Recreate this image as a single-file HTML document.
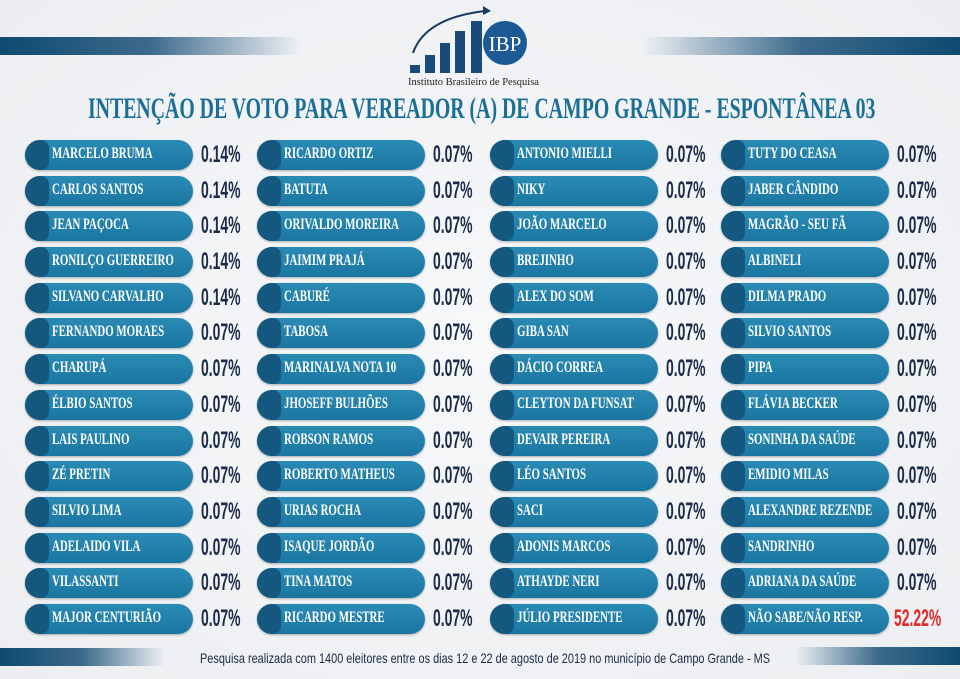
<!DOCTYPE html>
<html><head><meta charset="utf-8"><style>
body{margin:0;width:960px;height:679px;overflow:hidden;background:radial-gradient(ellipse at center,#f7f8fa 0%,#eceef1 100%);font-family:"Liberation Sans",sans-serif;position:relative}
.bar{position:absolute;height:18px}
.p{position:absolute;width:168px;height:30px;border-radius:15px;background:linear-gradient(#2a8bb5,#1a76a0);box-shadow:0 1px 2px rgba(0,0,0,.3)}
.p:before{content:"";position:absolute;left:0;top:0;width:24px;height:30px;border-radius:15px 8px 8px 15px;background:#15587f}
.p span{position:absolute;left:27px;top:5px;white-space:nowrap;color:#fff;font-weight:bold;font-size:16px;font-family:"Liberation Serif",serif;transform:scaleX(.68);transform-origin:left center}
.v{position:absolute;color:#1b2b48;font-weight:bold;font-size:24px;transform:scaleX(.58);transform-origin:left center;white-space:nowrap}
</style></head><body>
<div class="bar" style="left:0;top:37px;width:300px;background:linear-gradient(90deg,#0d4a70,#3d6a8c 50%,rgba(200,210,220,0))"></div>
<div class="bar" style="left:642px;top:37px;width:318px;background:linear-gradient(90deg,rgba(200,210,220,0),#3d6a8c 50%,#0d4a70)"></div>
<div class="bar" style="left:0;top:648px;width:165px;background:linear-gradient(90deg,#0d4a70,#3d6a8c 50%,rgba(200,210,220,0))"></div>
<div class="bar" style="left:795px;top:647px;width:165px;background:linear-gradient(90deg,rgba(200,210,220,0),#3d6a8c 50%,#0d4a70)"></div>
<svg style="position:absolute;left:405px;top:3px" width="150" height="86">
<path d="M8 50 Q20 15 80 8" stroke="#1a3a60" stroke-width="2" fill="none"/><path d="M78 3 L86 8 L78 12Z" fill="#1a3a60"/>
<rect x="5" y="62" width="10" height="8" fill="#1a4a7a"/><rect x="20" y="52" width="10" height="18" fill="#1a4a7a"/><rect x="35" y="40" width="10" height="30" fill="#1a4a7a"/><rect x="50" y="28" width="10" height="42" fill="#1a4a7a"/><rect x="66" y="18" width="11" height="52" fill="#1a4a7a"/>
<circle cx="100" cy="40" r="22" fill="#1c5a95"/><text x="100" y="48" text-anchor="middle" fill="#fff" font-family="Liberation Serif" font-size="21">IBP</text>
<text x="3" y="82" fill="#222" font-family="Liberation Serif" font-size="10.5">Instituto Brasileiro de Pesquisa</text></svg>
<div style="position:absolute;left:88px;top:92px;white-space:nowrap;color:#1b6f96;font-weight:bold;font-size:30px;font-family:'Liberation Serif',serif;transform:scaleX(.66);transform-origin:left top;width:1200px">INTENÇÃO DE VOTO PARA VEREADOR (A) DE CAMPO GRANDE - ESPONTÂNEA 03</div>

<div class="p" style="left:25px;top:140px"><span>MARCELO BRUMA</span></div><div class="v" style="left:201px;top:141px">0.14%</div>
<div class="p" style="left:25px;top:176px"><span>CARLOS SANTOS</span></div><div class="v" style="left:201px;top:177px">0.14%</div>
<div class="p" style="left:25px;top:211px"><span>JEAN PAÇOCA</span></div><div class="v" style="left:201px;top:212px">0.14%</div>
<div class="p" style="left:25px;top:247px"><span>RONILÇO GUERREIRO</span></div><div class="v" style="left:201px;top:248px">0.14%</div>
<div class="p" style="left:25px;top:283px"><span>SILVANO CARVALHO</span></div><div class="v" style="left:201px;top:284px">0.14%</div>
<div class="p" style="left:25px;top:318px"><span>FERNANDO MORAES</span></div><div class="v" style="left:201px;top:319px">0.07%</div>
<div class="p" style="left:25px;top:354px"><span>CHARUPÁ</span></div><div class="v" style="left:201px;top:355px">0.07%</div>
<div class="p" style="left:25px;top:390px"><span>ÉLBIO SANTOS</span></div><div class="v" style="left:201px;top:391px">0.07%</div>
<div class="p" style="left:25px;top:426px"><span>LAIS PAULINO</span></div><div class="v" style="left:201px;top:427px">0.07%</div>
<div class="p" style="left:25px;top:461px"><span>ZÉ PRETIN</span></div><div class="v" style="left:201px;top:462px">0.07%</div>
<div class="p" style="left:25px;top:497px"><span>SILVIO LIMA</span></div><div class="v" style="left:201px;top:498px">0.07%</div>
<div class="p" style="left:25px;top:533px"><span>ADELAIDO VILA</span></div><div class="v" style="left:201px;top:534px">0.07%</div>
<div class="p" style="left:25px;top:568px"><span>VILASSANTI</span></div><div class="v" style="left:201px;top:569px">0.07%</div>
<div class="p" style="left:25px;top:604px"><span>MAJOR CENTURIÃO</span></div><div class="v" style="left:201px;top:605px">0.07%</div>

<div class="p" style="left:257px;top:140px"><span>RICARDO ORTIZ</span></div><div class="v" style="left:433px;top:141px">0.07%</div>
<div class="p" style="left:257px;top:176px"><span>BATUTA</span></div><div class="v" style="left:433px;top:177px">0.07%</div>
<div class="p" style="left:257px;top:211px"><span>ORIVALDO MOREIRA</span></div><div class="v" style="left:433px;top:212px">0.07%</div>
<div class="p" style="left:257px;top:247px"><span>JAIMIM PRAJÁ</span></div><div class="v" style="left:433px;top:248px">0.07%</div>
<div class="p" style="left:257px;top:283px"><span>CABURÉ</span></div><div class="v" style="left:433px;top:284px">0.07%</div>
<div class="p" style="left:257px;top:318px"><span>TABOSA</span></div><div class="v" style="left:433px;top:319px">0.07%</div>
<div class="p" style="left:257px;top:354px"><span>MARINALVA NOTA 10</span></div><div class="v" style="left:433px;top:355px">0.07%</div>
<div class="p" style="left:257px;top:390px"><span>JHOSEFF BULHÕES</span></div><div class="v" style="left:433px;top:391px">0.07%</div>
<div class="p" style="left:257px;top:426px"><span>ROBSON RAMOS</span></div><div class="v" style="left:433px;top:427px">0.07%</div>
<div class="p" style="left:257px;top:461px"><span>ROBERTO MATHEUS</span></div><div class="v" style="left:433px;top:462px">0.07%</div>
<div class="p" style="left:257px;top:497px"><span>URIAS ROCHA</span></div><div class="v" style="left:433px;top:498px">0.07%</div>
<div class="p" style="left:257px;top:533px"><span>ISAQUE JORDÃO</span></div><div class="v" style="left:433px;top:534px">0.07%</div>
<div class="p" style="left:257px;top:568px"><span>TINA MATOS</span></div><div class="v" style="left:433px;top:569px">0.07%</div>
<div class="p" style="left:257px;top:604px"><span>RICARDO MESTRE</span></div><div class="v" style="left:433px;top:605px">0.07%</div>

<div class="p" style="left:490px;top:140px"><span>ANTONIO MIELLI</span></div><div class="v" style="left:666px;top:141px">0.07%</div>
<div class="p" style="left:490px;top:176px"><span>NIKY</span></div><div class="v" style="left:666px;top:177px">0.07%</div>
<div class="p" style="left:490px;top:211px"><span>JOÃO MARCELO</span></div><div class="v" style="left:666px;top:212px">0.07%</div>
<div class="p" style="left:490px;top:247px"><span>BREJINHO</span></div><div class="v" style="left:666px;top:248px">0.07%</div>
<div class="p" style="left:490px;top:283px"><span>ALEX DO SOM</span></div><div class="v" style="left:666px;top:284px">0.07%</div>
<div class="p" style="left:490px;top:318px"><span>GIBA SAN</span></div><div class="v" style="left:666px;top:319px">0.07%</div>
<div class="p" style="left:490px;top:354px"><span>DÁCIO CORREA</span></div><div class="v" style="left:666px;top:355px">0.07%</div>
<div class="p" style="left:490px;top:390px"><span>CLEYTON DA FUNSAT</span></div><div class="v" style="left:666px;top:391px">0.07%</div>
<div class="p" style="left:490px;top:426px"><span>DEVAIR PEREIRA</span></div><div class="v" style="left:666px;top:427px">0.07%</div>
<div class="p" style="left:490px;top:461px"><span>LÉO SANTOS</span></div><div class="v" style="left:666px;top:462px">0.07%</div>
<div class="p" style="left:490px;top:497px"><span>SACI</span></div><div class="v" style="left:666px;top:498px">0.07%</div>
<div class="p" style="left:490px;top:533px"><span>ADONIS MARCOS</span></div><div class="v" style="left:666px;top:534px">0.07%</div>
<div class="p" style="left:490px;top:568px"><span>ATHAYDE NERI</span></div><div class="v" style="left:666px;top:569px">0.07%</div>
<div class="p" style="left:490px;top:604px"><span>JÚLIO PRESIDENTE</span></div><div class="v" style="left:666px;top:605px">0.07%</div>

<div class="p" style="left:721px;top:140px"><span>TUTY DO CEASA</span></div><div class="v" style="left:897px;top:141px">0.07%</div>
<div class="p" style="left:721px;top:176px"><span>JABER CÂNDIDO</span></div><div class="v" style="left:897px;top:177px">0.07%</div>
<div class="p" style="left:721px;top:211px"><span>MAGRÃO - SEU FÃ</span></div><div class="v" style="left:897px;top:212px">0.07%</div>
<div class="p" style="left:721px;top:247px"><span>ALBINELI</span></div><div class="v" style="left:897px;top:248px">0.07%</div>
<div class="p" style="left:721px;top:283px"><span>DILMA PRADO</span></div><div class="v" style="left:897px;top:284px">0.07%</div>
<div class="p" style="left:721px;top:318px"><span>SILVIO SANTOS</span></div><div class="v" style="left:897px;top:319px">0.07%</div>
<div class="p" style="left:721px;top:354px"><span>PIPA</span></div><div class="v" style="left:897px;top:355px">0.07%</div>
<div class="p" style="left:721px;top:390px"><span>FLÁVIA BECKER</span></div><div class="v" style="left:897px;top:391px">0.07%</div>
<div class="p" style="left:721px;top:426px"><span>SONINHA DA SAÚDE</span></div><div class="v" style="left:897px;top:427px">0.07%</div>
<div class="p" style="left:721px;top:461px"><span>EMIDIO MILAS</span></div><div class="v" style="left:897px;top:462px">0.07%</div>
<div class="p" style="left:721px;top:497px"><span>ALEXANDRE REZENDE</span></div><div class="v" style="left:897px;top:498px">0.07%</div>
<div class="p" style="left:721px;top:533px"><span>SANDRINHO</span></div><div class="v" style="left:897px;top:534px">0.07%</div>
<div class="p" style="left:721px;top:568px"><span>ADRIANA DA SAÚDE</span></div><div class="v" style="left:897px;top:569px">0.07%</div>
<div class="p" style="left:721px;top:604px"><span>NÃO SABE/NÃO RESP.</span></div><div class="v" style="left:894px;top:605px;color:#e02b2b">52.22%</div>

<div style="position:absolute;left:200px;top:650px;white-space:nowrap;color:#1b2b48;font-size:14px;transform:scaleX(.78);transform-origin:left top">Pesquisa realizada com 1400 eleitores entre os dias 12 e 22 de agosto de 2019 no município de Campo Grande - MS</div>
</body></html>
